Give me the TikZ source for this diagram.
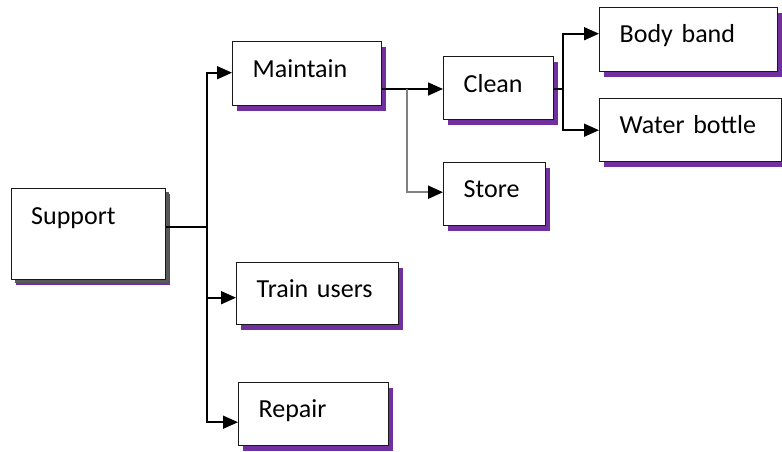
\documentclass[tikz,border=0pt]{standalone}
\usepackage{fontspec}
\setmainfont{Carlito}
\usepackage{xcolor}
\usepackage{tikz}
\usetikzlibrary{arrows.meta,positioning,calc,shadows}
\definecolor{shadepurple}{RGB}{112,48,160}
\definecolor{shadegray}{RGB}{89,89,89}

\begin{document}
\begin{tikzpicture}[x=1pt, y=-1pt,
        box/.style={rectangle, draw=black!90, line width=1.4pt, fill=white, anchor=north west, inner xsep=20pt, inner ysep=0pt, text height=35pt, align=left, font=\fontsize{26}{30}\selectfont,
            drop shadow={shadow xshift=4.5pt, shadow yshift=-5pt, fill=shadepurple, opacity=1}},
        graybox/.style={box, drop shadow={shadow xshift=3pt, shadow yshift=-3pt, fill=shadegray, opacity=1}},
        arrow/.style={-{Triangle[length=15pt, width=13pt, color=black]}, line width=1.6pt}]

        \useasboundingbox (0,0) rectangle (782,451);

        % Nodes
        \node[graybox, text width=115pt, inner xsep=19.5pt, text height=36pt, text depth=55pt] (sup) at (11,188) {Support};
        \node[box, text width=109pt, text height=36pt, text depth=28pt] (maint) at (232,41) {Maintain};
        \node[box, text width=122pt, text depth=27pt] (train) at (236,262) {Train users};
        \node[box, text width=110pt, text depth=28pt] (repair) at (238,382) {Repair};
        \node[box, text width=70pt, text height=36pt, text depth=27pt] (clean) at (443,56) {Clean};
        \node[box, text width=62pt, text depth=28pt] (store) at (443,162) {Store};
        \node[box, text width=138pt, text depth=29pt] (body) at (599,7) {Body band};
        \node[box, text width=142pt, text depth=28pt] (water) at (599,98) {Water bottle};

        % Branch points
        \coordinate (trunk) at (207,227);
        \coordinate (mbr) at (407,89);
        \coordinate (cbr) at (563,89);

        % Connections
        \draw[line width=1.6pt] (sup.east |- trunk) -- (trunk);
        \draw[arrow] (trunk) |- ([yshift=1pt]maint.west);
        \draw[arrow] (trunk) |- ([yshift=-4pt]train.west);
        \draw[arrow] (trunk) |- ([yshift=-8pt]repair.west);

        \draw[arrow] (maint.east |- mbr) -- (clean.west |- mbr);
        \draw[arrow, draw=black!50, line width=2.2pt] (mbr) |- ([yshift=2pt]store.west);

        \draw[line width=1.6pt] (clean.east |- cbr) -- (cbr);
        \draw[arrow] (cbr) |- ([yshift=6pt]body.west);
        \draw[arrow] (cbr) |- (water.west);

    \end{tikzpicture}
\end{document}
